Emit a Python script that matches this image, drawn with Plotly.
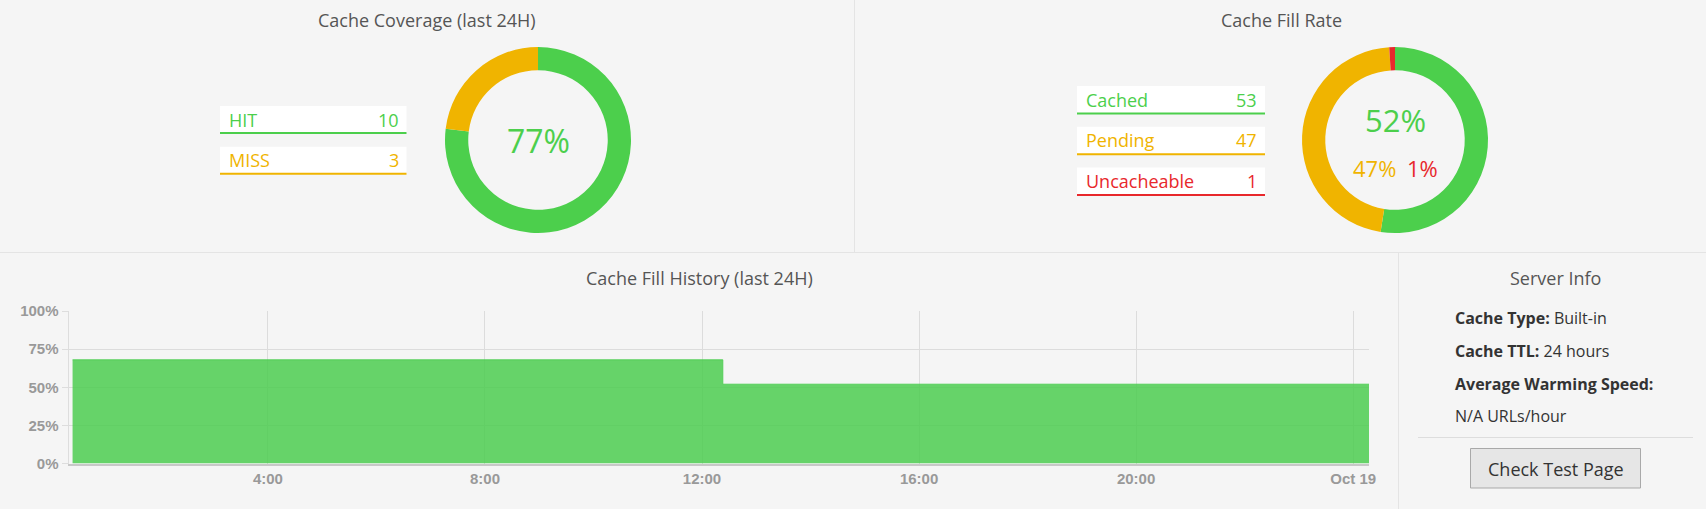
import plotly.graph_objects as go

# ---------------- data ----------------
coverage_labels = ["HIT", "MISS"]
coverage_values = [10, 3]
coverage_center = "77%"

fill_labels = ["Cached", "Pending", "Uncacheable"]
fill_values = [53, 47, 1]
fill_center = "52%"
fill_sub = ["47%", "1%"]

history_times = ["2023-10-18 00:24", "2023-10-18 12:23", "2023-10-19 00:18"]
history_values = [68, 52, 52]
x_tick_vals = ["2023-10-18 04:00", "2023-10-18 08:00", "2023-10-18 12:00",
               "2023-10-18 16:00", "2023-10-18 20:00", "2023-10-19 00:00"]
x_tick_text = ["4:00", "8:00", "12:00", "16:00", "20:00", "Oct 19"]
y_tick_vals = [0, 25, 50, 75, 100]
y_tick_text = ["0%", "25%", "50%", "75%", "100%"]

server_info = [("Cache Type:", "Built-in"), ("Cache TTL:", "24 hours"),
               ("Average Warming Speed:", ""), ("", "N/A URLs/hour")]

# ---------------- styling ----------------
W, H = 1706, 509
GREEN = "#4ccf4c"
YELLOW = "#f0b400"
RED = "#e8282c"
BG = "#f5f5f5"
FONT = "Open Sans"

def px(x):
    return x / W

def py(y):
    return 1 - y / H

fig = go.Figure()

fig.add_trace(go.Pie(labels=coverage_labels, values=coverage_values, hole=0.75,
                     sort=False, direction="clockwise", rotation=0,
                     marker=dict(colors=[GREEN, YELLOW], line=dict(width=0)),
                     textinfo="none", showlegend=False, hoverinfo="label+value",
                     domain=dict(x=[px(445), px(631)], y=[py(233), py(47)])))
fig.add_trace(go.Pie(labels=fill_labels, values=fill_values, hole=0.75,
                     sort=False, direction="clockwise", rotation=0,
                     marker=dict(colors=[GREEN, YELLOW, RED], line=dict(width=0)),
                     textinfo="none", showlegend=False, hoverinfo="label+value",
                     domain=dict(x=[px(1302), px(1488)], y=[py(233), py(47)])))

fig.add_trace(go.Scatter(x=history_times, y=history_values, mode="lines",
                         line=dict(shape="hv", color="rgba(80,206,84,0.9)", width=1),
                         fill="tozeroy", fillcolor="rgba(76,205,80,0.85)",
                         showlegend=False, hoverinfo="skip"))

shapes = []
annotations = []

# panel borders
shapes.append(dict(type="line", xref="paper", yref="paper", x0=0, x1=1,
                   y0=py(252.5), y1=py(252.5), line=dict(color="#e4e4e4", width=1)))
shapes.append(dict(type="line", xref="paper", yref="paper", x0=px(854.5), x1=px(854.5),
                   y0=py(252.5), y1=1, line=dict(color="#e4e4e4", width=1)))
shapes.append(dict(type="line", xref="paper", yref="paper", x0=px(1398.5), x1=px(1398.5),
                   y0=0, y1=py(252.5), line=dict(color="#e4e4e4", width=1)))

def title(text, x, y):
    annotations.append(dict(text=text, x=px(x), y=py(y), xref="paper", yref="paper",
                            showarrow=False, xanchor="center", yanchor="middle",
                            font=dict(family=FONT, size=18, color="#555555")))

title("Cache Coverage (last 24H)", 427, 20)
title("Cache Fill Rate", 1281, 20)
title("Cache Fill History (last 24H)", 699, 278)
title("Server Info", 1555, 278)

def legend_box(x0, x1, top, bottom, label, value, color):
    shapes.append(dict(type="rect", xref="paper", yref="paper", x0=px(x0), x1=px(x1),
                       y0=py(bottom), y1=py(top), fillcolor="white", line=dict(width=0),
                       layer="below"))
    shapes.append(dict(type="line", xref="paper", yref="paper", x0=px(x0), x1=px(x1),
                       y0=py(bottom), y1=py(bottom), line=dict(color=color, width=2)))
    cy = (top + bottom) / 2
    annotations.append(dict(text=label, x=px(x0 + 7), y=py(cy), xref="paper", yref="paper",
                            showarrow=False, xanchor="left", yanchor="middle",
                            font=dict(family=FONT, size=18, color=color)))
    annotations.append(dict(text=str(value), x=px(x1 - 6), y=py(cy), xref="paper", yref="paper",
                            showarrow=False, xanchor="right", yanchor="middle",
                            font=dict(family=FONT, size=18, color=color)))

cov_colors = [GREEN, YELLOW]
for i, (lab, val) in enumerate(zip(coverage_labels, coverage_values)):
    top = 106 + i * 40.7
    legend_box(220, 406.5, top, top + 27, lab, val, cov_colors[i])

fill_colors = [GREEN, YELLOW, RED]
for i, (lab, val) in enumerate(zip(fill_labels, fill_values)):
    top = 86 + i * 40.7
    legend_box(1077, 1265, top, top + 27.5, lab, val, fill_colors[i])

# donut centre texts
annotations.append(dict(text=coverage_center, x=px(538), y=py(141), xref="paper", yref="paper",
                        showarrow=False, xanchor="center", yanchor="middle",
                        font=dict(family=FONT, size=32, color=GREEN)))
annotations.append(dict(text=fill_center, x=px(1395), y=py(120), xref="paper", yref="paper",
                        showarrow=False, xanchor="center", yanchor="middle",
                        font=dict(family=FONT, size=31, color=GREEN)))
annotations.append(dict(text=fill_sub[0], x=px(1374), y=py(168), xref="paper", yref="paper",
                        showarrow=False, xanchor="center", yanchor="middle",
                        font=dict(family=FONT, size=22, color=YELLOW)))
annotations.append(dict(text=fill_sub[1], x=px(1422), y=py(168), xref="paper", yref="paper",
                        showarrow=False, xanchor="center", yanchor="middle",
                        font=dict(family=FONT, size=22, color=RED)))

# server info panel
info_y = [318, 351, 384, 416]
for (b, v), y in zip(server_info, info_y):
    txt = (f"<b>{b}</b> " if b else "") + v
    annotations.append(dict(text=txt, x=px(1453), y=py(y), xref="paper", yref="paper",
                            showarrow=False, xanchor="left", yanchor="middle",
                            font=dict(family=FONT, size=16, color="#333333")))
shapes.append(dict(type="line", xref="paper", yref="paper", x0=px(1418), x1=px(1693),
                   y0=py(437.5), y1=py(437.5), line=dict(color="#dddddd", width=1)))
shapes.append(dict(type="rect", xref="paper", yref="paper", x0=px(1470.5), x1=px(1640.5),
                   y0=py(488), y1=py(448.5), fillcolor="#e6e6e6",
                   line=dict(color="#a9a9a9", width=1)))
annotations.append(dict(text="Check Test Page", x=px(1555.5), y=py(468.5), xref="paper", yref="paper",
                        showarrow=False, xanchor="center", yanchor="middle",
                        font=dict(family=FONT, size=18, color="#333333")))

fig.update_layout(
    width=W, height=H, margin=dict(l=0, r=0, t=0, b=0, pad=0, autoexpand=False),
    paper_bgcolor=BG, plot_bgcolor=BG,
    shapes=shapes, annotations=annotations,
    xaxis=dict(type="date", domain=[px(68.5), px(1369)], automargin=False,
               range=["2023-10-18 00:19:30", "2023-10-19 00:17:30"],
               tickvals=x_tick_vals, ticktext=x_tick_text,
               showgrid=True, gridcolor="#dcdcdc", gridwidth=1,
               showline=True, linecolor="#c8c8c8", linewidth=2,
               ticks="", zeroline=False,
               tickfont=dict(family="Arial", size=15, color="#999999", weight="bold")),
    yaxis=dict(domain=[py(463.5), py(311)], range=[0, 100], automargin=False,
               tickvals=y_tick_vals, ticktext=y_tick_text,
               showgrid=True, gridcolor="#dcdcdc", gridwidth=1,
               showline=True, linecolor="#dddddd", linewidth=1,
               ticks="outside", ticklen=6, tickcolor="#dddddd", zeroline=False,
               tickfont=dict(family="Arial", size=15, color="#999999", weight="bold")),
)

fig.write_html("out.html", config={"displayModeBar": False},
               post_script="document.body.style.margin='0';")
